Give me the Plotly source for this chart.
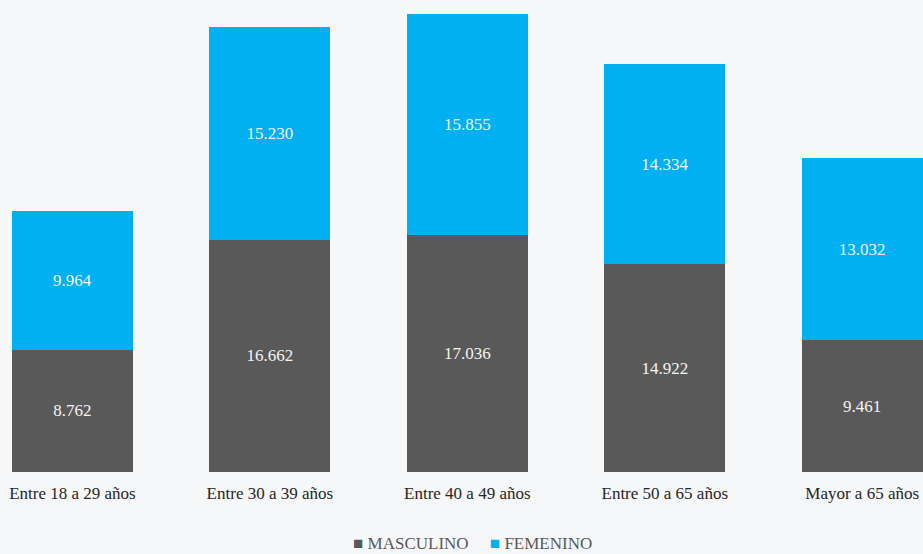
import plotly.graph_objects as go

categories = ["Entre 18 a 29 años", "Entre 30 a 39 años", "Entre 40 a 49 años",
              "Entre 50 a 65 años", "Mayor a 65 años"]
masculino = [8762, 16662, 17036, 14922, 9461]
femenino = [9964, 15230, 15855, 14334, 13032]
series_names = ["MASCULINO", "FEMENINO"]
series_colors = ["#595959", "#00B0F0"]

def fmt(v):
    return f"{v:,}".replace(",", ".")

FONT = "Palatino Linotype, Book Antiqua, Liberation Serif, DejaVu Serif, serif"

fig = go.Figure()
for name, vals, col in zip(series_names, [masculino, femenino], series_colors):
    fig.add_trace(go.Bar(
        x=categories, y=vals, name=name, showlegend=False,
        marker=dict(color=col, line=dict(width=0)),
        text=[fmt(v) for v in vals], textposition="inside",
        insidetextanchor="middle", textangle=0,
        textfont=dict(color="#f4f4f4", size=17, family=FONT),
    ))

legend_text = "&nbsp;&nbsp;&nbsp;&nbsp;&nbsp;".join(
    f"<span style='color:{c}'>■</span>&nbsp;{n}" for n, c in zip(series_names, series_colors)
)
fig.add_annotation(
    text=legend_text, xref="paper", yref="paper", x=0.512, y=-0.152,
    xanchor="center", yanchor="middle", showarrow=False,
    font=dict(size=17, color="#595959", family=FONT),
)

fig.update_layout(
    barmode="stack",
    bargap=0.387,
    width=923, height=554,
    margin=dict(l=0, r=0, t=0, b=82),
    paper_bgcolor="#f6f7f8",
    plot_bgcolor="#f6f7f8",
    font=dict(family=FONT, color="#262626", size=17),
    xaxis=dict(
        range=[-0.367, 4.308], showgrid=False, zeroline=False, showline=False,
        ticks="", tickfont=dict(size=17, color="#262626", family=FONT),
        ticklabelstandoff=9, fixedrange=True,
    ),
    yaxis=dict(
        range=[0, 33864], showgrid=False, zeroline=False, showline=False,
        showticklabels=False, ticks="", fixedrange=True,
    ),
)

fig.write_html(
    "out.html",
    config={"displayModeBar": False},
    post_script="document.body.style.margin='0';document.body.style.padding='0';document.body.style.overflow='hidden';",
)
